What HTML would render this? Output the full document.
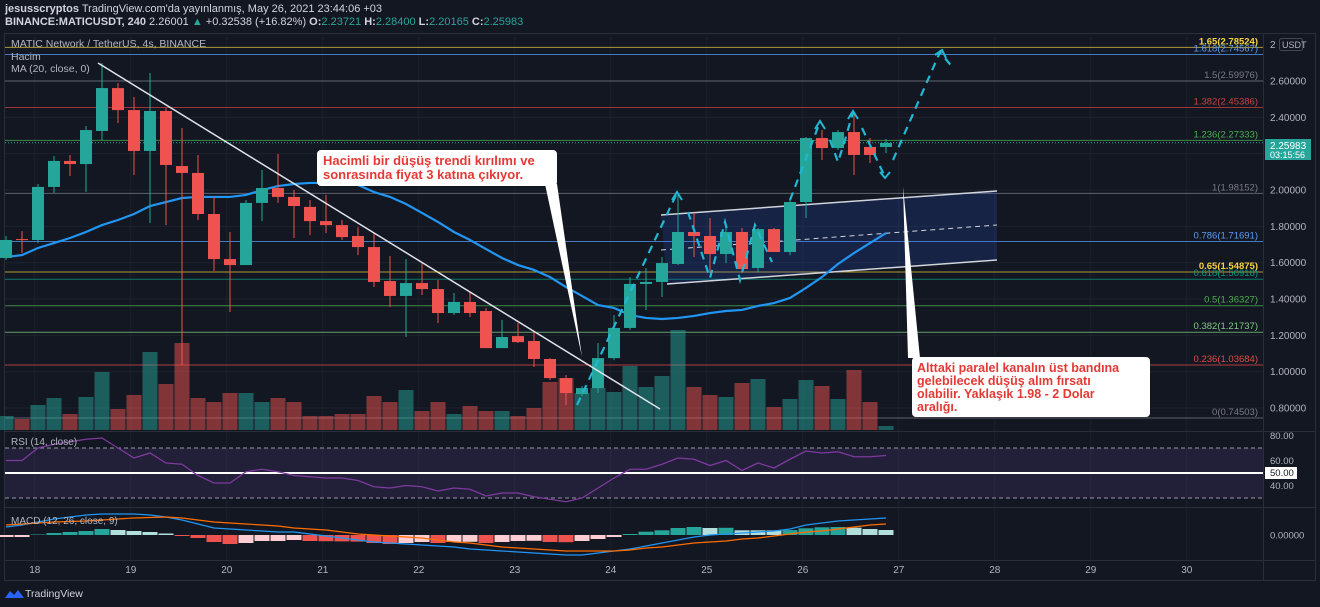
<!DOCTYPE html>
<html><head><meta charset="utf-8">
<style>
html,body{margin:0;padding:0;background:#131722;width:1320px;height:607px;overflow:hidden;font-family:"Liberation Sans","DejaVu Sans",sans-serif;}
svg text{font-family:"Liberation Sans","DejaVu Sans",sans-serif;}
</style></head>
<body>
<svg id="chart" width="1320" height="607" viewBox="0 0 1320 607" xmlns="http://www.w3.org/2000/svg">
<rect x="0" y="0" width="1320" height="607" fill="#131722"/>
<text x="5" y="12" font-size="11" fill="#d1d4dc"><tspan font-weight="bold">jesusscryptos</tspan> TradingView.com'da yayınlanmış, May 26, 2021 23:44:06 +03</text>
<text x="5" y="25" font-size="11" fill="#d1d4dc"><tspan font-weight="bold">BINANCE:MATICUSDT, 240</tspan> 2.26001 <tspan fill="#26a69a">▲</tspan> +0.32538 (+16.82%) <tspan font-weight="bold">O:</tspan><tspan fill="#26a69a">2.23721</tspan> <tspan font-weight="bold">H:</tspan><tspan fill="#26a69a">2.28400</tspan> <tspan font-weight="bold">L:</tspan><tspan fill="#26a69a">2.20165</tspan> <tspan font-weight="bold">C:</tspan><tspan fill="#26a69a">2.25983</tspan></text>
<rect x="4.5" y="33.5" width="1311" height="547" fill="#131722" stroke="#2a2e39"/>
<g id="grid"></g>
<g id="fibs"></g>
<g id="vol"></g>
<g id="channel">
<polygon points="661,215 997,191 997,260 667,284" fill="rgba(41,98,255,0.16)"/>
<line x1="661" y1="215" x2="997" y2="191" stroke="#d1d4dc" stroke-width="1.5"/>
<line x1="667" y1="284" x2="997" y2="260" stroke="#d1d4dc" stroke-width="1.5"/>
<line x1="661" y1="250" x2="997" y2="225" stroke="#d1d4dc" stroke-width="1" stroke-dasharray="5,4"/>
</g>
<g id="ma"></g>
<g id="candles"></g>
<line x1="98" y1="63" x2="660" y2="409" stroke="#e0e3eb" stroke-width="1.5"/>
<g fill="none" stroke="#22b7d3" stroke-width="2.2" stroke-dasharray="8,6">
<polyline points="577,405 677,193"/>
<polyline points="688,212 710,278 725,222 740,280 755,225 772,262"/>
<polyline points="790,200 820,122"/>
<polyline points="830,140 838,162 845,140 853,112"/>
<polyline points="862,128 885,177"/>
<polyline points="893,160 940,52 953,68"/>
</g>
<g fill="none" stroke="#22b7d3" stroke-width="2">
<polyline points="672,200 677,192 682,200"/><polyline points="815,129 820,121 825,129"/><polyline points="848,119 853,111 858,119"/><polyline points="880,172 885,178 890,172"/><polyline points="935,55 942,50 946,58"/>
</g>
<g>
<polygon points="545,184 557,184 582,357" fill="#ffffff"/>
<rect x="317" y="150" width="240" height="36" rx="4" fill="#ffffff"/>
<text x="323" y="165" font-size="13" font-weight="bold" fill="#e53935">Hacimli bir düşüş trendi kırılımı ve</text>
<text x="323" y="179" font-size="13" font-weight="bold" fill="#e53935">sonrasında fiyat 3 katına çıkıyor.</text>
</g>
<g>
<polygon points="908,358 920,358 903,187" fill="#ffffff"/>
<rect x="912" y="357" width="238" height="60" rx="4" fill="#ffffff"/>
<text x="917" y="372" font-size="12.5" font-weight="bold" fill="#e53935">Alttaki paralel kanalın üst bandına</text>
<text x="917" y="385" font-size="12.5" font-weight="bold" fill="#e53935">gelebilecek düşüş alım fırsatı</text>
<text x="917" y="398" font-size="12.5" font-weight="bold" fill="#e53935">olabilir. Yaklaşık 1.98 - 2 Dolar</text>
<text x="917" y="411" font-size="12.5" font-weight="bold" fill="#e53935">aralığı.</text>
</g>
<text x="11" y="47" font-size="10.5" fill="#b2b5be">MATIC Network / TetherUS, 4s, BINANCE</text>
<text x="11" y="60" font-size="10.5" fill="#b2b5be">Hacim</text>
<text x="11" y="72" font-size="10.5" fill="#b2b5be">MA (20, close, 0)</text>
<line x1="5" y1="431.5" x2="1315" y2="431.5" stroke="#2a2e39"/>
<line x1="5" y1="507.5" x2="1315" y2="507.5" stroke="#2a2e39"/>
<line x1="5" y1="560.5" x2="1315" y2="560.5" stroke="#2a2e39"/>
<line x1="1263.5" y1="34" x2="1263.5" y2="580" stroke="#2a2e39"/>
<g id="rsi"></g>
<g id="macd"></g>
<g id="axes"></g>
<text x="11" y="445" font-size="10" fill="#b2b5be">RSI (14, close)</text>
<text x="11" y="524" font-size="10" fill="#b2b5be">MACD (12, 26, close, 9)</text>
<rect x="1279.5" y="38.5" width="23" height="12" rx="2" fill="none" stroke="#434651"/>
<text x="1282" y="48" font-size="9" fill="#b2b5be">USDT</text>
<text x="1270" y="48" font-size="10" fill="#b2b5be">2</text>
<rect x="1265" y="139" width="46" height="21" fill="#26a69a"/>
<text x="1270" y="149" font-size="10" fill="#ffffff">2.25983</text>
<text x="1270" y="158" font-size="9" fill="#ffffff">03:15:56</text>
<rect x="1265" y="467" width="32" height="12" fill="#ffffff"/>
<text x="1270" y="476" font-size="9.5" fill="#131722">50.00</text>
<g>
<path d="M5 598 l5 -7 l4 4 l4 -5 l6 8 z" fill="#2962ff"/>
<text x="25" y="597" font-size="10.5" fill="#d1d4dc">TradingView</text>
</g>
</svg>
<script>
const opens=[1.626,1.730,1.725,2.017,2.160,2.143,2.325,2.561,2.440,2.215,2.435,2.132,2.094,1.868,1.620,1.587,1.929,2.011,1.962,1.907,1.829,1.807,1.747,1.686,1.499,1.417,1.488,1.455,1.323,1.384,1.334,1.130,1.196,1.169,1.070,0.965,0.877,0.910,1.075,1.241,1.483,1.494,1.593,1.769,1.747,1.648,1.769,1.571,1.785,1.659,1.934,2.286,2.231,2.319,2.237,2.237];
const highs=[1.747,1.774,2.033,2.187,2.193,2.352,2.699,2.589,2.512,2.644,2.451,2.341,2.193,1.962,1.769,1.945,2.110,2.198,2.000,1.945,1.973,1.835,1.796,1.763,1.637,1.620,1.598,1.505,1.433,1.439,1.351,1.285,1.268,1.219,1.075,0.982,0.921,1.158,1.312,1.521,1.571,1.631,1.984,1.874,1.846,1.818,1.791,1.791,1.791,1.956,2.292,2.330,2.330,2.424,2.286,2.281];
const lows=[1.615,1.653,1.708,1.984,2.077,1.990,2.275,2.369,2.083,1.818,1.807,1.037,1.835,1.554,1.329,1.587,1.829,1.929,1.736,1.752,1.763,1.725,1.642,1.466,1.356,1.191,1.422,1.268,1.312,1.301,1.130,1.130,1.158,1.026,0.954,0.817,0.866,0.883,1.064,1.230,1.340,1.411,1.587,1.631,1.543,1.598,1.543,1.549,1.659,1.642,1.846,2.165,2.220,2.083,2.149,2.204];
const closes=[1.725,1.725,2.017,2.160,2.143,2.330,2.561,2.440,2.215,2.435,2.138,2.094,1.868,1.620,1.587,1.929,2.011,1.962,1.912,1.829,1.807,1.741,1.686,1.494,1.417,1.488,1.455,1.323,1.384,1.323,1.130,1.191,1.163,1.070,0.965,0.883,0.910,1.075,1.241,1.483,1.494,1.598,1.769,1.747,1.648,1.769,1.565,1.785,1.659,1.934,2.286,2.231,2.319,2.193,2.193,2.259];
const volumes=[14,11,25,32,16,33,58,21,35,78,46,87,32,28,37,37,28,32,28,14,14,16,16,34,28,40,19,28,16,24,19,19,14,22,48,52,37,42,38,64,43,54,100,43,35,33,47,51,23,31,50,44,31,60,28,4];
const maValues=[1.631,1.642,1.681,1.708,1.736,1.769,1.807,1.835,1.868,1.912,1.934,1.956,1.962,1.962,1.962,1.973,2.000,2.022,2.033,2.039,2.039,2.039,2.028,1.989,1.962,1.923,1.874,1.824,1.769,1.725,1.675,1.626,1.587,1.560,1.521,1.466,1.417,1.367,1.351,1.312,1.296,1.290,1.296,1.307,1.323,1.334,1.340,1.362,1.378,1.406,1.461,1.521,1.593,1.653,1.708,1.763];
const rsiValues=[60,60,70,73,75,77,78,70,62,66,58,57,48,42,42,51,53,51,48,47,46,46,44,39,38,40,39,35.6,38,37,31.6,34,34,31,29,27,30,38,46,53,53,57,62,61,56,60,52,58,54,61,67.6,66,67,63,63,64];
const macdValues=[8,10,13,16,18,20,21,21,21,20,18,15,11,7,6,5,4,3,3,1,-1,-3,-5,-7,-8,-9,-10,-11,-12,-14,-15,-16,-17,-18,-19,-20,-20,-18,-16,-14,-11,-8,-5,-2,0,1,2,3,4,6,10,12,14,15,16,17];
const signalValues=[10,11,12,13,13.5,14,15,16,17,17.5,18,17,15,13,12,11,10,9,7,6,5,3,1,0,-1,-2,-3,-5,-7,-8,-10,-12,-13,-14,-15,-16,-16,-16,-16,-15,-13,-12,-10,-8,-7,-6,-4,-3,-1,1,3,4,6,8,10,11];
const histValues=[-2,-2,0.5,2,3,4,6,5,4,3,1.5,-1,-3,-7,-9,-8,-6,-6,-5,-6,-6.2,-6.4,-6.6,-8,-9,-8,-7,-8,-7,-6.8,-8,-7,-6,-5.8,-7,-7.2,-6,-4,-2,1,3.3,4.7,7,8,7,7.2,4.7,4.7,4.7,4.9,6.7,7.7,8,7.3,6,5];
const fibRatios=["1.65","1.618","1.5","1.382","1.236","1","0.786","0.65","0.618","0.5","0.382","0.236","0"];
const fibPrices=[2.78524,2.74567,2.59976,2.45386,2.27333,1.98152,1.71691,1.54875,1.50918,1.36327,1.21737,1.03684,0.74503];
const priceTicks=[2.6,2.4,2.2,2.0,1.8,1.6,1.4,1.2,1.0,0.8];
const rsiTicks=[80,60,40];
const dayLabels=[18,19,20,21,22,23,24,25,26,27,28,29,30];
const lastPrice=2.25983;

const fibColors=["#e3c43a","#5b9cf6","#787b86","#c9403f","#4caf50","#787b86","#5b9cf6","#e3c43a","#089981","#4caf50","#81c784","#e04b47","#787b86"];
const NS="http://www.w3.org/2000/svg";
const yP=v=>81+(2.6-v)*181.7;
const xC=i=>6+16*i;
const xD=d=>xC(1.8+6*(d-18));
const yV=v=>430-v;
const yR=v=>473-(v-50)*1.25;
const yM=v=>535-v;
function mk(tag,attrs,parent){const e=document.createElementNS(NS,tag);for(const k in attrs)e.setAttribute(k,attrs[k]);document.getElementById(parent).appendChild(e);return e;}
function txt(e,s){e.textContent=s;return e;}

// grid
dayLabels.forEach(d=>{
  const g=mk('line',{x1:xD(d),x2:xD(d),y1:34,y2:560,stroke:'#1e222d'},'grid');
  
  
  const t=txt(mk('text',{x:xD(d),y:573,'font-size':10,fill:'#b2b5be','text-anchor':'middle'},'axes'),String(d));
  
  
});
priceTicks.forEach(p=>{
  const g=mk('line',{x1:5,x2:1263,y1:yP(p),y2:yP(p),stroke:'#1e222d'},'grid');
  
  
  const t=txt(mk('text',{x:1270,y:yP(p)+3.5,'font-size':10,fill:'#b2b5be'},'axes'),p.toFixed(5));
  
  
});
// fibs
fibPrices.forEach((p,i)=>{
  const y=yP(p);
  const l=mk('line',{x1:5,x2:1263,y1:y,y2:y,stroke:fibColors[i],'stroke-opacity':0.75},'fibs');
  
  
  const bold=(fibRatios[i]==="1.65"||fibRatios[i]==="0.65");
  const t=txt(mk('text',{x:1258,y:y-3,'font-size':9.5,fill:bold?'#f5d33f':fibColors[i],'text-anchor':'end','font-weight':bold?'bold':'normal'},'fibs'),fibRatios[i]+'('+p.toFixed(5)+')');
  
  
});
const lp=mk('line',{x1:5,x2:1263,y1:yP(lastPrice),y2:yP(lastPrice),stroke:'#26a69a','stroke-dasharray':'1,2'},'fibs');


// volume
volumes.forEach((v,i)=>{
  const up=closes[i]>=opens[i];
  const r=mk('rect',{x:xC(i)-7.5,y:yV(v),width:15,height:v,fill:up?'rgba(38,166,154,0.5)':'rgba(239,83,80,0.5)'},'vol');
  
  
});
// MA
const maLine=mk('polyline',{points:maValues.map((v,i)=>xC(i)+','+yP(v)).join(' '),fill:'none',stroke:'#2196f3','stroke-width':2.2},'ma');


// candles
opens.forEach((o,i)=>{
  const c=closes[i],up=c>=o,col=up?'#26a69a':'#ef5350';
  const w=mk('line',{x1:xC(i),x2:xC(i),y1:yP(highs[i]),y2:yP(lows[i]),stroke:col,'stroke-width':1},'candles');
  
  
  const top=yP(Math.max(o,c)),bot=yP(Math.min(o,c));
  const b=mk('rect',{x:xC(i)-6,y:top,width:12,height:Math.max(1,bot-top),fill:col},'candles');
  
  
});
// RSI
const band=mk('rect',{x:5,y:yR(70),width:1258,height:yR(30)-yR(70),fill:'rgba(126,87,194,0.14)'},'rsi');


[70,30].forEach(v=>{
  const l=mk('line',{x1:5,x2:1263,y1:yR(v),y2:yR(v),stroke:'#9598a1','stroke-dasharray':'4,3'},'rsi');
  
  
});
const mid=mk('line',{x1:5,x2:1263,y1:yR(50),y2:yR(50),stroke:'#ffffff','stroke-width':2},'rsi');


const rl=mk('polyline',{points:rsiValues.map((v,i)=>xC(i)+','+yR(v)).join(' '),fill:'none',stroke:'#7e3a9e','stroke-width':1.3},'rsi');


rsiTicks.forEach(v=>{
  const t=txt(mk('text',{x:1270,y:yR(v)+3.5,'font-size':9.5,fill:'#b2b5be'},'axes'),v.toFixed(2));
  
  
});
// MACD
histValues.forEach((v,i)=>{
  const prev=i>0?histValues[i-1]:v;
  let col;
  if(v>=0) col=v>prev?'#26a69a':'#b2dfdb'; else col=v<prev?'#ef5350':'#ffcdd2';
  const r=mk('rect',{x:xC(i)-7.5,y:Math.min(yM(v),yM(0)),width:15,height:Math.max(0.5,Math.abs(v)),fill:col},'macd');
  
  
});
const ml=mk('polyline',{points:macdValues.map((v,i)=>xC(i)+','+yM(v)).join(' '),fill:'none',stroke:'#2196f3','stroke-width':1.2},'macd');


const sl=mk('polyline',{points:signalValues.map((v,i)=>xC(i)+','+yM(v)).join(' '),fill:'none',stroke:'#ff6d00','stroke-width':1.2},'macd');


const mt=txt(mk('text',{x:1270,y:yM(0)+3.5,'font-size':9.5,fill:'#b2b5be'},'axes'),'0.00000');


</script>
</body></html>
